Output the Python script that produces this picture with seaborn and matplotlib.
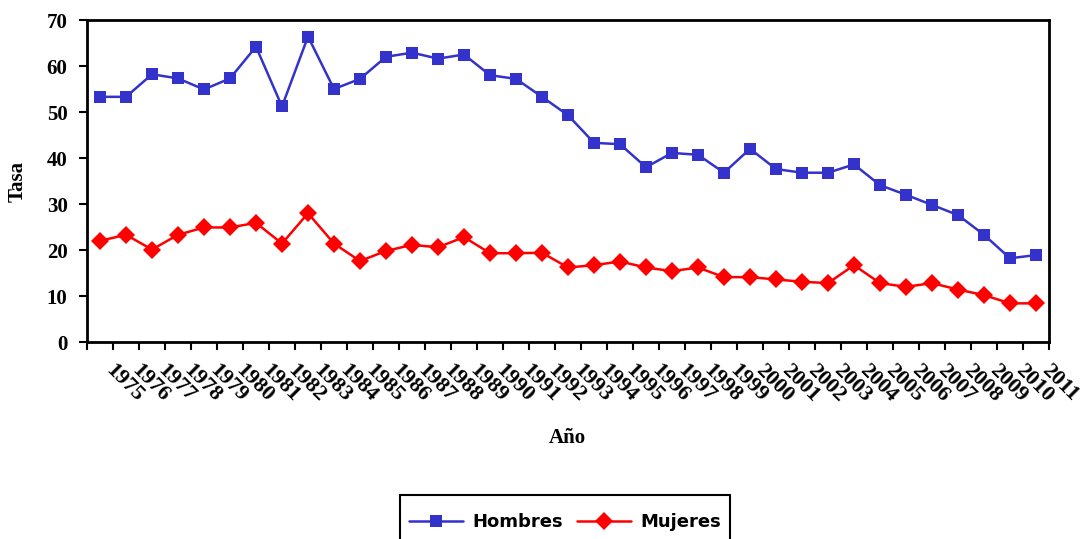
import matplotlib
matplotlib.use("Agg")
import matplotlib.pyplot as plt
import matplotlib.transforms as mtransforms
from matplotlib.patches import Rectangle
import numpy as np
import pandas as pd
import seaborn as sns

# Tasas anuales por sexo, 1975-2011
years = list(range(1975, 2012))
hombres = [53.3, 53.3, 58.2, 57.3, 54.9, 57.3, 64.2, 51.2, 66.4, 55.0,
           57.2, 62.0, 62.9, 61.6, 62.5, 58.0, 57.2, 53.3, 49.3, 43.3,
           43.0, 38.0, 41.1, 40.7, 36.8, 42.0, 37.6, 36.8, 36.8, 38.6,
           34.1, 32.0, 29.8, 27.6, 23.3, 18.2, 18.9]
mujeres = [22.0, 23.3, 20.1, 23.3, 24.9, 24.9, 25.9, 21.4, 28.0, 21.4,
           17.6, 19.8, 21.1, 20.6, 22.8, 19.3, 19.3, 19.4, 16.2, 16.7,
           17.5, 16.2, 15.4, 16.2, 14.1, 14.1, 13.6, 13.1, 12.8, 16.7,
           12.8, 12.0, 12.8, 11.4, 10.2, 8.4, 8.4]
series_names = ["Hombres", "Mujeres"]
y_ticks = [0, 10, 20, 30, 40, 50, 60, 70]

df = pd.DataFrame({
    "Año": years * 2,
    "Tasa": hombres + mujeres,
    "Serie": [series_names[0]] * len(years) + [series_names[1]] * len(years),
})

sns.set_style("white")
plt.rcParams["font.family"] = ["Liberation Serif", "DejaVu Serif"]
plt.rcParams["text.color"] = "black"
plt.rcParams["axes.labelcolor"] = "black"
plt.rcParams["xtick.color"] = "black"
plt.rcParams["ytick.color"] = "black"

W, H = 1081, 539
fig = plt.figure(figsize=(W / 100, H / 100), dpi=100)
ax = fig.add_axes([87 / W, 1 - 342 / H, (1049 - 87) / W, (342 - 20) / H])

palette = {"Hombres": "#3333CC", "Mujeres": "#FF0000"}
markers = {"Hombres": "s", "Mujeres": "D"}
sns.lineplot(data=df, x="Año", y="Tasa", hue="Serie", style="Serie",
             palette=palette, markers=markers, dashes=False,
             markersize=9, markeredgewidth=0, linewidth=1.8, ax=ax, legend=True)

ax.set_xlim(years[0] - 0.5, years[-1] + 0.5)
ax.set_ylim(0, 70)
ax.set_yticks(y_ticks)
ax.set_yticklabels([str(v) for v in y_ticks], fontsize=15, fontweight="bold")

# category labels centred on each year, tick marks on the boundaries
ax.set_xticks(years)
ax.set_xticklabels([str(y) for y in years], fontsize=16, fontweight="bold",
                   rotation=-45, ha="left", va="top", rotation_mode="anchor")
ax.set_xticks(np.arange(years[0] - 0.5, years[-1] + 1.0, 1.0), minor=True)
ax.tick_params(axis="x", which="major", length=0, pad=13)
ax.tick_params(axis="x", which="minor", length=6, width=1.5, direction="out", bottom=True)
ax.tick_params(axis="y", length=6, width=1.5, direction="out", left=True, pad=8)
offset = mtransforms.ScaledTranslation(16 / 100, 0, fig.dpi_scale_trans)
for lbl in ax.get_xticklabels():
    lbl.set_transform(lbl.get_transform() + offset)

for side in ["left", "bottom", "top", "right"]:
    ax.spines[side].set_visible(True)
    ax.spines[side].set_color("black")
    ax.spines[side].set_linewidth(2)

ax.set_xlabel("Año", fontsize=15, fontweight="bold")
ax.set_ylabel("Tasa", fontsize=15, fontweight="bold")
ax.xaxis.set_label_coords(0.5 + (567 - 568) / 962, -(428 - 342) / 322)
ax.yaxis.set_label_coords(-(87 - 28) / 962, (342 - 181) / 322)

# legend below the plot, its frame running past the lower edge of the figure
handles, labels = ax.get_legend_handles_labels()
ax.get_legend().remove()
fig.legend(handles, labels, loc="center",
           bbox_to_anchor=(565 / W, 1 - 522 / H), ncol=2,
           frameon=False, handlelength=3.0, columnspacing=0.8,
           handletextpad=0.5, borderaxespad=0.0,
           prop={"family": "DejaVu Sans", "weight": "bold", "size": 13})
fig.patches.append(Rectangle((400 / W, -0.05), (730 - 400) / W, (1 - 495 / H) + 0.05,
                             transform=fig.transFigure, fill=False,
                             edgecolor="black", linewidth=1.5))

fig.savefig("out.png", dpi=100)
